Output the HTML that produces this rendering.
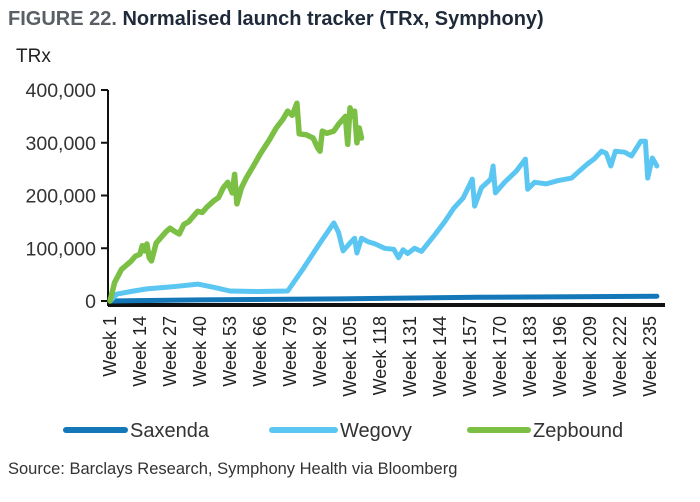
<!DOCTYPE html>
<html><head><meta charset="utf-8"><style>
body{margin:0;background:#fff;}
svg{display:block;font-family:"Liberation Sans","DejaVu Sans",sans-serif;}
</style></head><body>
<svg id="chart" width="700" height="502">
<text x="8" y="25" font-size="20" font-weight="bold" fill="#5a5f66">FIGURE 22. <tspan fill="#1e2a3a">Normalised launch tracker (TRx, Symphony)</tspan></text>
<text x="16" y="62" font-size="19" fill="#222">TRx</text>
<g id="yaxis"></g>
<g id="xaxis"></g>
<g id="series"></g>
<g>
<g><line x1="66" y1="430" x2="125" y2="430" stroke="#1478b8" stroke-width="6" stroke-linecap="round"/><text x="130" y="437" font-size="20" fill="#333">Saxenda</text></g>
<g><line x1="272" y1="430" x2="335" y2="430" stroke="#5bc6f2" stroke-width="6" stroke-linecap="round"/><text x="340" y="437" font-size="20" fill="#333">Wegovy</text></g>
<g><line x1="470" y1="430" x2="528" y2="430" stroke="#7cbf45" stroke-width="6" stroke-linecap="round"/><text x="533" y="437" font-size="20" fill="#333">Zepbound</text></g>
</g>
<text x="8" y="474" font-size="16.5" fill="#333">Source: Barclays Research, Symphony Health via Bloomberg</text>
</svg>
<script>
const yTicks=[0,100000,200000,300000,400000];
const weekLabels=[1,14,27,40,53,66,79,92,105,118,131,144,157,170,183,196,209,222,235];
const zepWeeks=[1,3,6,10,12,14,15,16,17,18,19,21,23,25,27,29,31,33,35,37,39,41,43,46,48,50,52,54,55,56,58,60,63,66,70,73,76,78,80,82,83,86,89,91,92,93,95,98,100,102,103,104,105,106,107,108,109,110];
const zepVals=[0,35000,60000,75000,85000,89000,105000,95000,108000,82000,76000,110000,120000,130000,138000,132000,127000,145000,150000,160000,170000,168000,178000,190000,196000,214000,225000,205000,240000,184000,215000,233000,255000,278000,305000,328000,345000,360000,352000,375000,317000,315000,309000,290000,284000,322000,318000,322000,335000,345000,350000,297000,366000,350000,360000,300000,328000,309000];
const wegWeeks=[1,4,10,17,28,39,46,53,65,78,85,92,98,100,102,105,107,108,110,113,116,120,124,126,128,130,133,136,142,146,150,154,158,159,162,166,167,168,172,177,181,182,185,190,195,201,204,208,211,214,216,218,220,224,227,231,233,234,236,238];
const wegVals=[0,13000,18000,23000,27000,32000,26000,19000,18000,19000,63000,110000,148000,130000,95000,110000,119000,91000,119000,112000,108000,100000,98000,82000,97000,90000,100000,94000,127000,150000,176000,195000,231000,180000,215000,231000,256000,205000,225000,246000,269000,212000,225000,222000,228000,233000,245000,260000,270000,284000,280000,256000,284000,282000,275000,303000,303000,233000,271000,256000];
const saxWeeks=[1,40,100,160,238];
const saxVals=[0,2000,4000,7000,9000];
const NS="http://www.w3.org/2000/svg";
const x=w=>110+(w-1)*30/13;
const y=v=>301-v*211/400000;
function mk(t,a,p){const e=document.createElementNS(NS,t);for(const k in a)e.setAttribute(k,a[k]);p.appendChild(e);return e;}
const ya=document.getElementById('yaxis'),xa=document.getElementById('xaxis'),sg=document.getElementById('series');
yTicks.forEach(v=>{
 const t=mk('line',{x1:101,x2:108,y1:y(v),y2:y(v),stroke:'#111','stroke-width':2},ya);
 
 
 const l=mk('text',{x:96,y:y(v)+7,'text-anchor':'end','font-size':19.5,fill:'#333'},ya);
 l.textContent=v.toLocaleString('en-US');
 
 
});
mk('line',{x1:108,x2:108,y1:y(400000),y2:306,stroke:'#111','stroke-width':2},ya);
mk('line',{x1:108,x2:665,y1:305,y2:305,stroke:'#111','stroke-width':4},xa);
weekLabels.forEach(w=>{
 const cx=x(w)+6;
 const l=mk('text',{x:0,y:0,'text-anchor':'end','font-size':18,fill:'#222',transform:`translate(${cx},316) rotate(-90)`},xa);
 l.textContent='Week '+w;
 
 
});
function line(ws,vs,col,name,wd){
 const d=ws.map((w,i)=>(i?'L':'M')+x(w).toFixed(1)+','+y(vs[i]).toFixed(1)).join(' ');
 const p=mk('path',{d:d,fill:'none',stroke:col,'stroke-width':wd,'stroke-linejoin':'round','stroke-linecap':'round'},sg);
 
 
}
line(saxWeeks,saxVals,'#1478b8','saxenda-line',5);
line(wegWeeks,wegVals,'#5bc6f2','wegovy-line',5);
line(zepWeeks,zepVals,'#7cbf45','zepbound-line',5.5);
</script>
</body></html>
